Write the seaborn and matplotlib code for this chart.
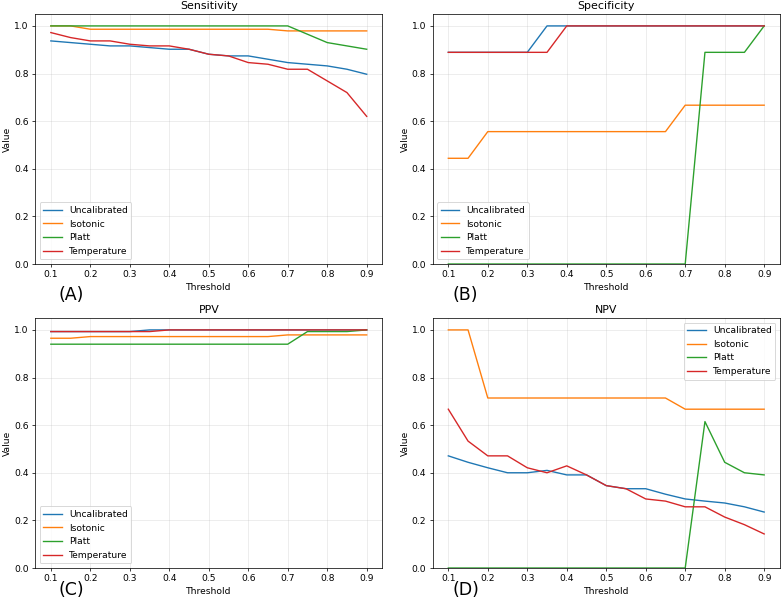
import numpy as np
import pandas as pd
import seaborn as sns
import matplotlib
matplotlib.use("Agg")
import matplotlib.pyplot as plt

thresholds = [0.1, 0.15, 0.2, 0.25, 0.3, 0.35, 0.4, 0.45, 0.5, 0.55, 0.6, 0.65, 0.7, 0.75, 0.8, 0.85, 0.9]
methods = ["Uncalibrated", "Isotonic", "Platt", "Temperature"]

sens_uncal = [0.937, 0.930, 0.923, 0.916, 0.916, 0.909, 0.902, 0.902, 0.881, 0.874, 0.874, 0.860, 0.846, 0.839, 0.832, 0.818, 0.797]
sens_iso = [1.0, 1.0, 0.986, 0.986, 0.986, 0.986, 0.986, 0.986, 0.986, 0.986, 0.986, 0.986, 0.979, 0.979, 0.979, 0.979, 0.979]
sens_platt = [1.0, 1.0, 1.0, 1.0, 1.0, 1.0, 1.0, 1.0, 1.0, 1.0, 1.0, 1.0, 1.0, 0.965, 0.930, 0.916, 0.902]
sens_temp = [0.972, 0.951, 0.937, 0.937, 0.923, 0.916, 0.916, 0.902, 0.881, 0.874, 0.846, 0.839, 0.818, 0.818, 0.769, 0.720, 0.620]

spec_uncal = [0.889, 0.889, 0.889, 0.889, 0.889, 1.0, 1.0, 1.0, 1.0, 1.0, 1.0, 1.0, 1.0, 1.0, 1.0, 1.0, 1.0]
spec_iso = [0.444, 0.444, 0.556, 0.556, 0.556, 0.556, 0.556, 0.556, 0.556, 0.556, 0.556, 0.556, 0.667, 0.667, 0.667, 0.667, 0.667]
spec_platt = [0.0, 0.0, 0.0, 0.0, 0.0, 0.0, 0.0, 0.0, 0.0, 0.0, 0.0, 0.0, 0.0, 0.889, 0.889, 0.889, 1.0]
spec_temp = [0.889, 0.889, 0.889, 0.889, 0.889, 0.889, 1.0, 1.0, 1.0, 1.0, 1.0, 1.0, 1.0, 1.0, 1.0, 1.0, 1.0]

ppv_uncal = [0.993, 0.993, 0.993, 0.993, 0.993, 1.0, 1.0, 1.0, 1.0, 1.0, 1.0, 1.0, 1.0, 1.0, 1.0, 1.0, 1.0]
ppv_iso = [0.965, 0.965, 0.972, 0.972, 0.972, 0.972, 0.972, 0.972, 0.972, 0.972, 0.972, 0.972, 0.979, 0.979, 0.979, 0.979, 0.979]
ppv_platt = [0.940, 0.940, 0.940, 0.940, 0.940, 0.940, 0.940, 0.940, 0.940, 0.940, 0.940, 0.940, 0.940, 0.993, 0.993, 0.993, 1.0]
ppv_temp = [0.993, 0.993, 0.993, 0.993, 0.993, 0.993, 1.0, 1.0, 1.0, 1.0, 1.0, 1.0, 1.0, 1.0, 1.0, 1.0, 1.0]

npv_uncal = [0.471, 0.444, 0.421, 0.400, 0.400, 0.410, 0.391, 0.391, 0.346, 0.333, 0.333, 0.310, 0.290, 0.281, 0.273, 0.257, 0.235]
npv_iso = [1.0, 1.0, 0.714, 0.714, 0.714, 0.714, 0.714, 0.714, 0.714, 0.714, 0.714, 0.714, 0.667, 0.667, 0.667, 0.667, 0.667]
npv_platt = [0.0, 0.0, 0.0, 0.0, 0.0, 0.0, 0.0, 0.0, 0.0, 0.0, 0.0, 0.0, 0.0, 0.615, 0.444, 0.400, 0.391]
npv_temp = [0.667, 0.533, 0.471, 0.471, 0.421, 0.400, 0.429, 0.391, 0.346, 0.333, 0.290, 0.281, 0.257, 0.257, 0.214, 0.182, 0.143]

panels = [
    ("Sensitivity", [sens_uncal, sens_iso, sens_platt, sens_temp], "lower left", "(A)"),
    ("Specificity", [spec_uncal, spec_iso, spec_platt, spec_temp], "lower left", "(B)"),
    ("PPV", [ppv_uncal, ppv_iso, ppv_platt, ppv_temp], "lower left", "(C)"),
    ("NPV", [npv_uncal, npv_iso, npv_platt, npv_temp], "upper right", "(D)"),
]
label_pos = [(0.075, 0.509), (0.579, 0.509), (0.075, 0.018), (0.579, 0.018)]

DPI = 66
fig, axes = plt.subplots(2, 2, figsize=(782 / DPI, 601 / DPI), dpi=DPI)
for ax, (title, series, loc, tag), (lx, ly) in zip(axes.flat, panels, label_pos):
    rows = []
    for m, vals in zip(methods, series):
        for t, v in zip(thresholds, vals):
            rows.append({"Threshold": t, "Value": v, "Method": m})
    df = pd.DataFrame(rows)
    sns.lineplot(data=df, x="Threshold", y="Value", hue="Method", palette="tab10", ax=ax)
    ax.set_title(title)
    ax.set_ylabel("Value", labelpad=2)
    ax.set_ylim(0, 1.05)
    ax.grid(True, alpha=0.3)
    ax.legend(loc=loc)
    fig.text(lx, ly, tag, fontsize=19, va="center")

fig.subplots_adjust(left=0.0448, right=0.9974, top=0.9767, bottom=0.0549, wspace=0.144, hspace=0.216)
plt.savefig("out.png", dpi=DPI)
